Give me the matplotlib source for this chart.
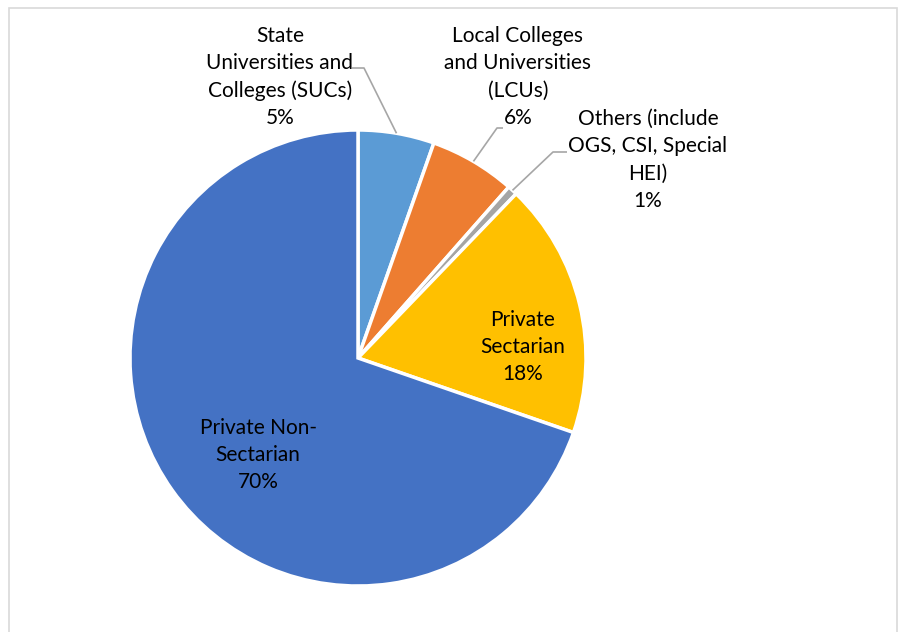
import numpy as np
import matplotlib
matplotlib.use("Agg")
import matplotlib.pyplot as plt
from matplotlib.patches import Rectangle

categories = ["State\nUniversities and\nColleges (SUCs)",
              "Local Colleges\nand Universities\n(LCUs)",
              "Others (include\nOGS, CSI, Special\nHEI)",
              "Private\nSectarian",
              "Private Non-\nSectarian"]
values = [5.4, 6.1, 0.7, 18.1, 69.7]
colors = ["#5B9BD5", "#ED7D31", "#A5A5A5", "#FFC000", "#4472C4"]

W, H = 901, 632
fig = plt.figure(figsize=(W / 100, H / 100), dpi=100)
ax = fig.add_axes([0, 0, 1, 1])

cx, cy, r = 358, H - 358, 228
ax.add_patch(Rectangle((9, -10), 888, H - 8 + 10, fill=False, edgecolor="#D9D9D9", lw=1.2))

wedges, _ = ax.pie(values, colors=colors, startangle=90, counterclock=False,
                   center=(cx, cy), radius=r, frame=True,
                   wedgeprops=dict(edgecolor="white", linewidth=2.5))
ax.set_xlim(0, W)
ax.set_ylim(0, H)
ax.set_aspect("equal")
ax.axis("off")

font = dict(family=["Lato", "DejaVu Sans"], fontsize=15, color="black",
            ha="center", va="center", linespacing=1.45)
labels = [f"{c}\n{round(v):d}%" for c, v in zip(categories, values)]

# outside labels (text center positions, in pixels from top-left)
text_pos = {0: (280, 77), 1: (518, 77), 2: (648, 160)}
# leader line knee positions
knees = {0: [(352, 68), (364, 68)], 1: [(503, 128), (497, 128)], 2: [(567, 152), (553, 152)]}
inside_pos = {3: (523, 347), 4: (258, 455)}

cum = np.cumsum([0] + values)
total = sum(values)
for i in range(len(values)):
    mid = np.deg2rad(90 - 360 * (cum[i] + values[i] / 2) / total)
    if i in text_pos:
        tx, ty = text_pos[i]
        ax.text(tx, H - ty, labels[i], **font)
        ex, ey = cx + r * np.cos(mid), cy + r * np.sin(mid)
        pts = knees[i]
        xs = [p[0] for p in pts] + [ex]
        ys = [H - p[1] for p in pts] + [ey]
        ax.plot(xs, ys, color="#A6A6A6", lw=1.2, solid_capstyle="butt")
    else:
        tx, ty = inside_pos[i]
        ax.text(tx, H - ty, labels[i], **font)

fig.savefig("out.png", dpi=100)
